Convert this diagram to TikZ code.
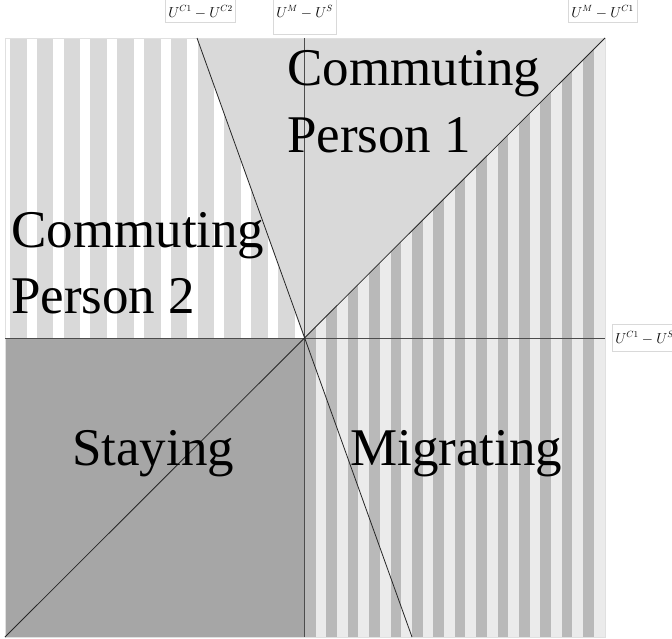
\documentclass[tikz,border=0pt]{standalone}
\usepackage{fontspec}
\setmainfont{Liberation Serif}
\begin{document}
\begin{tikzpicture}[x=1pt,y=-1pt,
  bigtext/.style={anchor=base west,inner sep=0pt,font=\fontsize{53}{60}\selectfont},
  axlabel/.style={draw=black!15,line width=0.6pt,inner sep=3pt,fill=white,font=\fontsize{13.5}{15}\selectfont},
  axisline/.style={black!70,line width=0.9pt},
  borderline/.style={black!85,line width=0.8pt}]
\definecolor{cone}{HTML}{D9D9D9}
\definecolor{ctwo}{HTML}{D9D9D9}
\definecolor{stay}{HTML}{A6A6A6}
\definecolor{mlight}{HTML}{EBEBEB}
\definecolor{mdark}{HTML}{B9B9B9}
\useasboundingbox (0,0) rectangle (672,638);
\fill[white] (0,0) rectangle (672,638);
% key points
\coordinate (O) at (304,338);
\coordinate (TL) at (5,38);
\coordinate (TR) at (605,38);
\coordinate (BL) at (5,637);
\coordinate (BR) at (605,637);
\coordinate (ST) at (197,38);
\coordinate (SB) at (412,637);
\coordinate (L) at (5,338);
\coordinate (R) at (605,338);
\coordinate (T) at (304,38);
\coordinate (B) at (304,637);
% Commuting person 2 region (stripes)
\begin{scope}
  \clip (TL) -- (ST) -- (O) -- (L) -- cycle;
  \fill[white] (TL) -- (ST) -- (O) -- (L) -- cycle;
  \foreach \i in {0,...,10} {
    \fill[ctwo] (10+26.8*\i,38) rectangle ++(16.5,300);
  }
\end{scope}
% Commuting person 1 region
\fill[cone] (ST) -- (TR) -- (O) -- cycle;
% Migrating region
\begin{scope}
  \clip (O) -- (TR) -- (BR) -- (B) -- cycle;
  \fill[mlight] (O) -- (TR) -- (BR) -- (B) -- cycle;
  \foreach \i in {0,...,13} {
    \fill[mdark] (305+21.4*\i,38) rectangle ++(10.5,599);
  }
\end{scope}
% Staying region
\fill[stay] (L) rectangle (B);
% frame
\draw[black!12,line width=0.6pt] (TL) rectangle (BR);
% axes
\draw[axisline] (T) -- (B);
\draw[axisline] (L) -- (R);
% borders
\draw[borderline] (BL) -- (TR);
\draw[borderline] (ST) -- (SB);
% region labels
\node[bigtext] (c1a) at (287,85) {Commuting};
\node[bigtext] (c1b) at (287,152) {Person 1};
\node[bigtext] (c2a) at (11,247) {Commuting};
\node[bigtext] (c2b) at (11,313) {Person 2};
\node[bigtext] (stayl) at (72,465) {Staying};
\node[bigtext] (migl) at (350,465) {Migrating};
% axis labels
\node[axlabel,anchor=base west,text height=26pt,text depth=2pt] (la) at (165,17) {$U^{C1}-U^{C2}$};
\node[axlabel,anchor=base west,text height=26pt,text depth=14pt] (lb) at (273,17) {$U^{M}-U^{S}$};
\node[axlabel,anchor=base west,text height=26pt,text depth=2pt] (lc) at (568,17) {$U^{M}-U^{C1}$};
\node[axlabel,anchor=west,minimum height=27pt] (ld) at (612,338) {$U^{C1}-U^{S}$};
\end{tikzpicture}
\end{document}
